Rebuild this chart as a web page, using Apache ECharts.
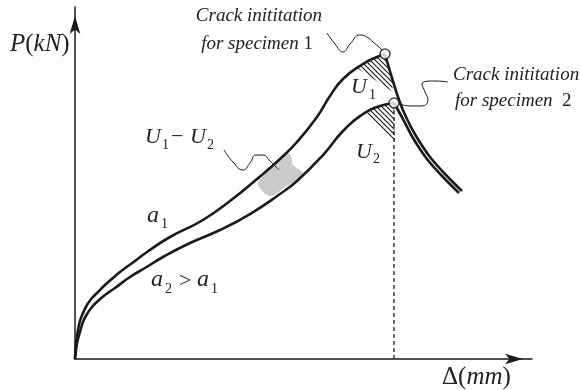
<!DOCTYPE html>
<html><head><meta charset="utf-8">
<script src="https://cdn.jsdelivr.net/npm/echarts@6/dist/echarts.min.js"></script>
<style>html,body{margin:0;padding:0;background:#fff}#c{width:580px;height:390px}</style>
</head><body><div id="c"></div>
<script>
// Schematic load–displacement curves (arbitrary units, 0..100)
const upperRise = [[0,0],[0.11,2.56],[0.33,5.40],[0.66,8.24],[1.09,10.80],[1.75,13.07],[2.63,15.34],[3.72,17.33],[5.03,19.03],[6.56,21.02],[8.32,23.01],[9.85,24.72],[13.13,27.84],[15.75,30.40],[20.79,34.66],[28.01,39.49],[33.92,44.89],[39.82,51.14],[44.86,56.82],[48.58,61.65],[52.95,68.75],[55.80,74.72],[58.64,79.55],[63.02,83.81],[66.08,85.80],[67.83,86.65]];
const upperFall = [[67.83,86.65],[69.37,79.83],[70.90,73.58],[72.43,68.75],[74.62,63.35],[77.68,57.39],[80.96,52.56],[84.68,47.73]];
const lowerRise = [[0,0],[0.22,2.56],[0.55,5.11],[1.09,7.67],[1.75,10.51],[2.63,12.78],[3.72,14.77],[5.03,16.48],[6.56,18.18],[8.75,20.17],[12.04,23.30],[15.32,25.85],[19.26,28.98],[25.16,32.95],[31.73,36.65],[38.29,41.19],[44.86,46.88],[48.58,50.57],[54.27,57.95],[58.64,64.77],[63.02,69.60],[66.08,71.59],[69.80,72.73]];
const lowerFall = [[69.80,72.73],[71.77,68.18],[73.96,62.78],[77.02,56.82],[80.31,51.99],[84.03,47.16]];
const crackPoints = [[67.83,86.65],[69.80,72.73]];
const dashLine = [[69.80,72.73],[69.80,0]];
const hatchU1 = [[61.71,82.67],[63.02,83.81],[66.08,85.80],[67.83,86.65],[69.37,79.83],[69.58,75.85]];
const hatchU2 = [[63.46,69.60],[66.08,71.59],[69.80,72.73],[70.02,61.65]];
const blob = [[40.04,50.0],[40.92,51.70],[43.11,54.55],[46.17,58.52],[47.26,57.67],[47.70,55.11],[49.89,52.84],[48.80,50.85],[45.95,48.86],[43.11,46.31],[41.14,47.44]];
const leader1 = [[55.14,92.61],[56.89,89.49],[58.64,87.22],[60.18,89.49],[62.36,92.05],[63.89,91.48],[65.21,90.06],[66.74,88.35],[67.83,86.93]];
const leader2 = [[81.62,78.69],[78.77,78.98],[75.93,78.13],[76.59,75.85],[77.24,73.58],[75.93,71.88],[73.30,71.88],[71.12,72.44]];
const leader3 = [[32.60,59.38],[34.57,55.97],[36.76,53.69],[38.29,55.68],[39.61,57.95],[41.14,57.95],[42.67,56.25],[44.64,53.69]];

const INK = '#1a1a1a';
const SERIF = '"Liberation Serif","DejaVu Serif",serif';

// hatch pattern
const cnv = document.createElement('canvas');
cnv.width = 5; cnv.height = 5;
const g = cnv.getContext('2d');
g.strokeStyle = '#111'; g.lineWidth = 1.05;
g.beginPath();
g.moveTo(-1,-1); g.lineTo(6,6);
g.moveTo(-1,4); g.lineTo(1,6);
g.moveTo(4,-1); g.lineTo(6,1);
g.stroke();
const hatch = {image: cnv, repeat: 'repeat'};

function poly(points, style, z, smooth) {
  return {type:'custom', coordinateSystem:'cartesian2d', data:[[0,0]], silent:true, z:z,
    renderItem: (p, api) => ({type:'polygon', shape:{points: points.map(q => api.coord(q)), smooth: smooth||0}, style: style})};
}
function line(data, width, z, smooth, type) {
  return {type:'line', data:data, symbol:'none', smooth:smooth, z:z, silent:true,
    lineStyle:{color:INK, width:width, type:type||'solid'}};
}
function txt(x, y, text, size, opts) {
  opts = opts || {};
  return {type:'text', x:x, y:y, z:100, style:Object.assign({text:text, font:(opts.upright?'':'italic ') + size + 'px ' + SERIF,
    fill:'#222', textAlign:opts.align||'left', textVerticalAlign:'middle'}, opts.rich?{rich:opts.rich}:{})};
}
const richPN = (size) => ({i:{fontStyle:'italic', fontSize:size, fontFamily:SERIF, color:'#222'}, n:{fontStyle:'normal', fontSize:size, fontFamily:SERIF, color:'#222'}});

const chart = echarts.init(document.getElementById('c'), null, {renderer:'canvas'});
chart.setOption({
  animation:false,
  backgroundColor:'#fff',
  grid:{left:75, top:7, width:457, height:352, containLabel:false},
  xAxis:{type:'value', min:0, max:100, axisLabel:{show:false}, axisTick:{show:false}, splitLine:{show:false},
    axisLine:{show:true, symbol:['none','arrow'], symbolSize:[8,18], symbolOffset:[0,-9], lineStyle:{color:INK, width:1.5}}},
  yAxis:{type:'value', min:0, max:100, axisLabel:{show:false}, axisTick:{show:false}, splitLine:{show:false},
    axisLine:{show:true, symbol:['none','arrow'], symbolSize:[8,18], symbolOffset:[0,-9], lineStyle:{color:INK, width:1.5}}},
  series:[
    poly(blob, {fill:'#cbcbcb'}, 1, 0.35),
    poly(hatchU1, {fill:hatch}, 2),
    poly(hatchU2, {fill:hatch}, 2),
    line(dashLine, 1.3, 3, false, [4,3]),
    line(upperRise, 2.6, 5, 0.5),
    line(upperFall, 2.6, 5, 0.3),
    line(lowerRise, 2.6, 5, 0.5),
    line(lowerFall, 2.6, 5, 0.3),
    line(leader1, 1, 4, 0.5),
    line(leader2, 1, 4, 0.5),
    line(leader3, 1, 4, 0.5),
    {type:'scatter', data:crackPoints, symbol:'circle', symbolSize:10, z:10, silent:true,
      itemStyle:{color:'#fff', borderColor:INK, borderWidth:1.6}}
  ],
  graphic:[
    txt(10, 44, '{i|P}{n|(}{i|kN}{n|)}', 25, {rich:richPN(25)}),
    txt(442, 377, '{n|Δ(}{i|mm}{n|)}', 25, {rich:richPN(25)}),
    txt(322, 16, 'Crack inititation', 19, {align:'right'}),
    txt(313, 44, '{i|for specimen }{n|1}', 19, {align:'right', rich:richPN(19)}),
    txt(453, 75, 'Crack inititation', 19),
    txt(455, 101, '{i|for specimen  }{n|2}', 19, {rich:richPN(19)}),
    txt(351, 87, 'U', 22), txt(369, 95, '1', 14, {upright:true}),
    txt(356, 152, 'U', 22), txt(373, 159, '2', 14, {upright:true}),
    txt(145, 137, 'U', 22), txt(162, 145, '1', 14, {upright:true}),
    txt(171, 137, '−', 22, {upright:true}),
    txt(190, 137, 'U', 22), txt(207, 145, '2', 14, {upright:true}),
    txt(147, 216, 'a', 24), txt(161, 224, '1', 14, {upright:true}),
    txt(151, 280, 'a', 24), txt(165, 289, '2', 14, {upright:true}),
    txt(179, 281, '>', 22, {upright:true}),
    txt(197, 280, 'a', 24), txt(211, 289, '1', 14, {upright:true})
  ]
});
</script></body></html>
